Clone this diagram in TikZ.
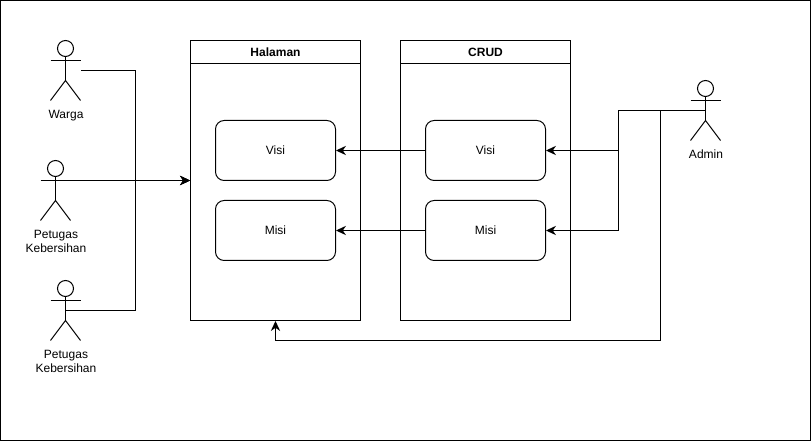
\documentclass[tikz,border=0pt]{standalone}
\usepackage{fontspec}
\setmainfont{Liberation Sans}
\usetikzlibrary{arrows.meta}

\tikzset{
    every node/.style={font=\fontsize{9}{10.5}\selectfont, align=center, inner sep=0pt},
    lane/.style={draw, rectangle, minimum width=127.5pt, minimum height=210pt},
    lanetitle/.style={draw, rectangle, minimum width=127.5pt, minimum height=17.25pt, anchor=north, font=\fontsize{9}{10.5}\selectfont\bfseries},
    item/.style={draw, rectangle, rounded corners=6.5pt, minimum width=90pt, minimum height=45pt},
    actorbox/.style={rectangle, minimum width=22.5pt, minimum height=45pt},
}

% stick figure around an invisible box
\newcommand{\actorfig}[3]{
    \node[actorbox] (#1) at (#2,#3) {};
    \draw (#2,#3-22) circle[radius=6pt];
    \draw (#2,#3-14) -- (#2,#3+10);
    \draw (#2-15,#3-10) -- (#2+15,#3-10);
    \draw (#2-15,#3+30) -- (#2,#3+10) -- (#2+15,#3+30);
    \coordinate (#1hand) at (#2+15,#3-10);
}

\begin{document}
\begin{tikzpicture}[x=0.75pt, y=-0.75pt, line width=0.75pt, >={Stealth[length=7.5pt,width=7pt]}]
    \useasboundingbox (0,0) rectangle (811,441);
    \draw[line width=1.1pt] (0.5,0.5) rectangle (810.5,440.5);

    % actors
    \actorfig{warga}{65.5}{70.5}
    \actorfig{petugasa}{55.5}{190.5}
    \actorfig{petugasb}{65.5}{310.5}
    \actorfig{admin}{705.5}{110.5}
    \node (wargalabel) at (66,115.5) {Warga};
    \node (petugasalabel) at (56,241) {Petugas\\Kebersihan};
    \node (petugasblabel) at (66,361) {Petugas\\Kebersihan};
    \node (adminlabel) at (706,154) {Admin};

    % lanes
    \node[lane] (halaman) at (275.5,180.5) {};
    \node[lanetitle] (halamantitle) at (halaman.north) {Halaman};
    \node[lane] (crud) at (485.5,180.5) {};
    \node[lanetitle] (crudtitle) at (crud.north) {CRUD};

    \node[item] (hvisi) at (275.5,150.5) {Visi};
    \node[item] (hmisi) at (275.5,230.5) {Misi};
    \node[item] (cvisi) at (485.5,150.5) {Visi};
    \node[item] (cmisi) at (485.5,230.5) {Misi};

    \coordinate (busleft) at (135.5,180.5);
    \coordinate (busright) at (618,110.5);
    \coordinate (busdown) at (660.5,340.5);

    \draw[->] (cvisi) -- (hvisi);
    \draw[->] (cmisi) -- (hmisi);

    \draw[->] (warga.east) -| (busleft) -- (halaman.west);
    \draw[->] (petugasahand) -- (halaman.west);
    \draw[->] (petugasb.center) -| (busleft) -- (halaman.west);

    \draw[->] (admin.center) -- (busright) |- (cvisi.east);
    \draw[->] (admin.center) -- (busright) |- (cmisi.east);
    \draw[->] (admin.center) -| (busdown) -| (halaman.south);
\end{tikzpicture}
\end{document}
